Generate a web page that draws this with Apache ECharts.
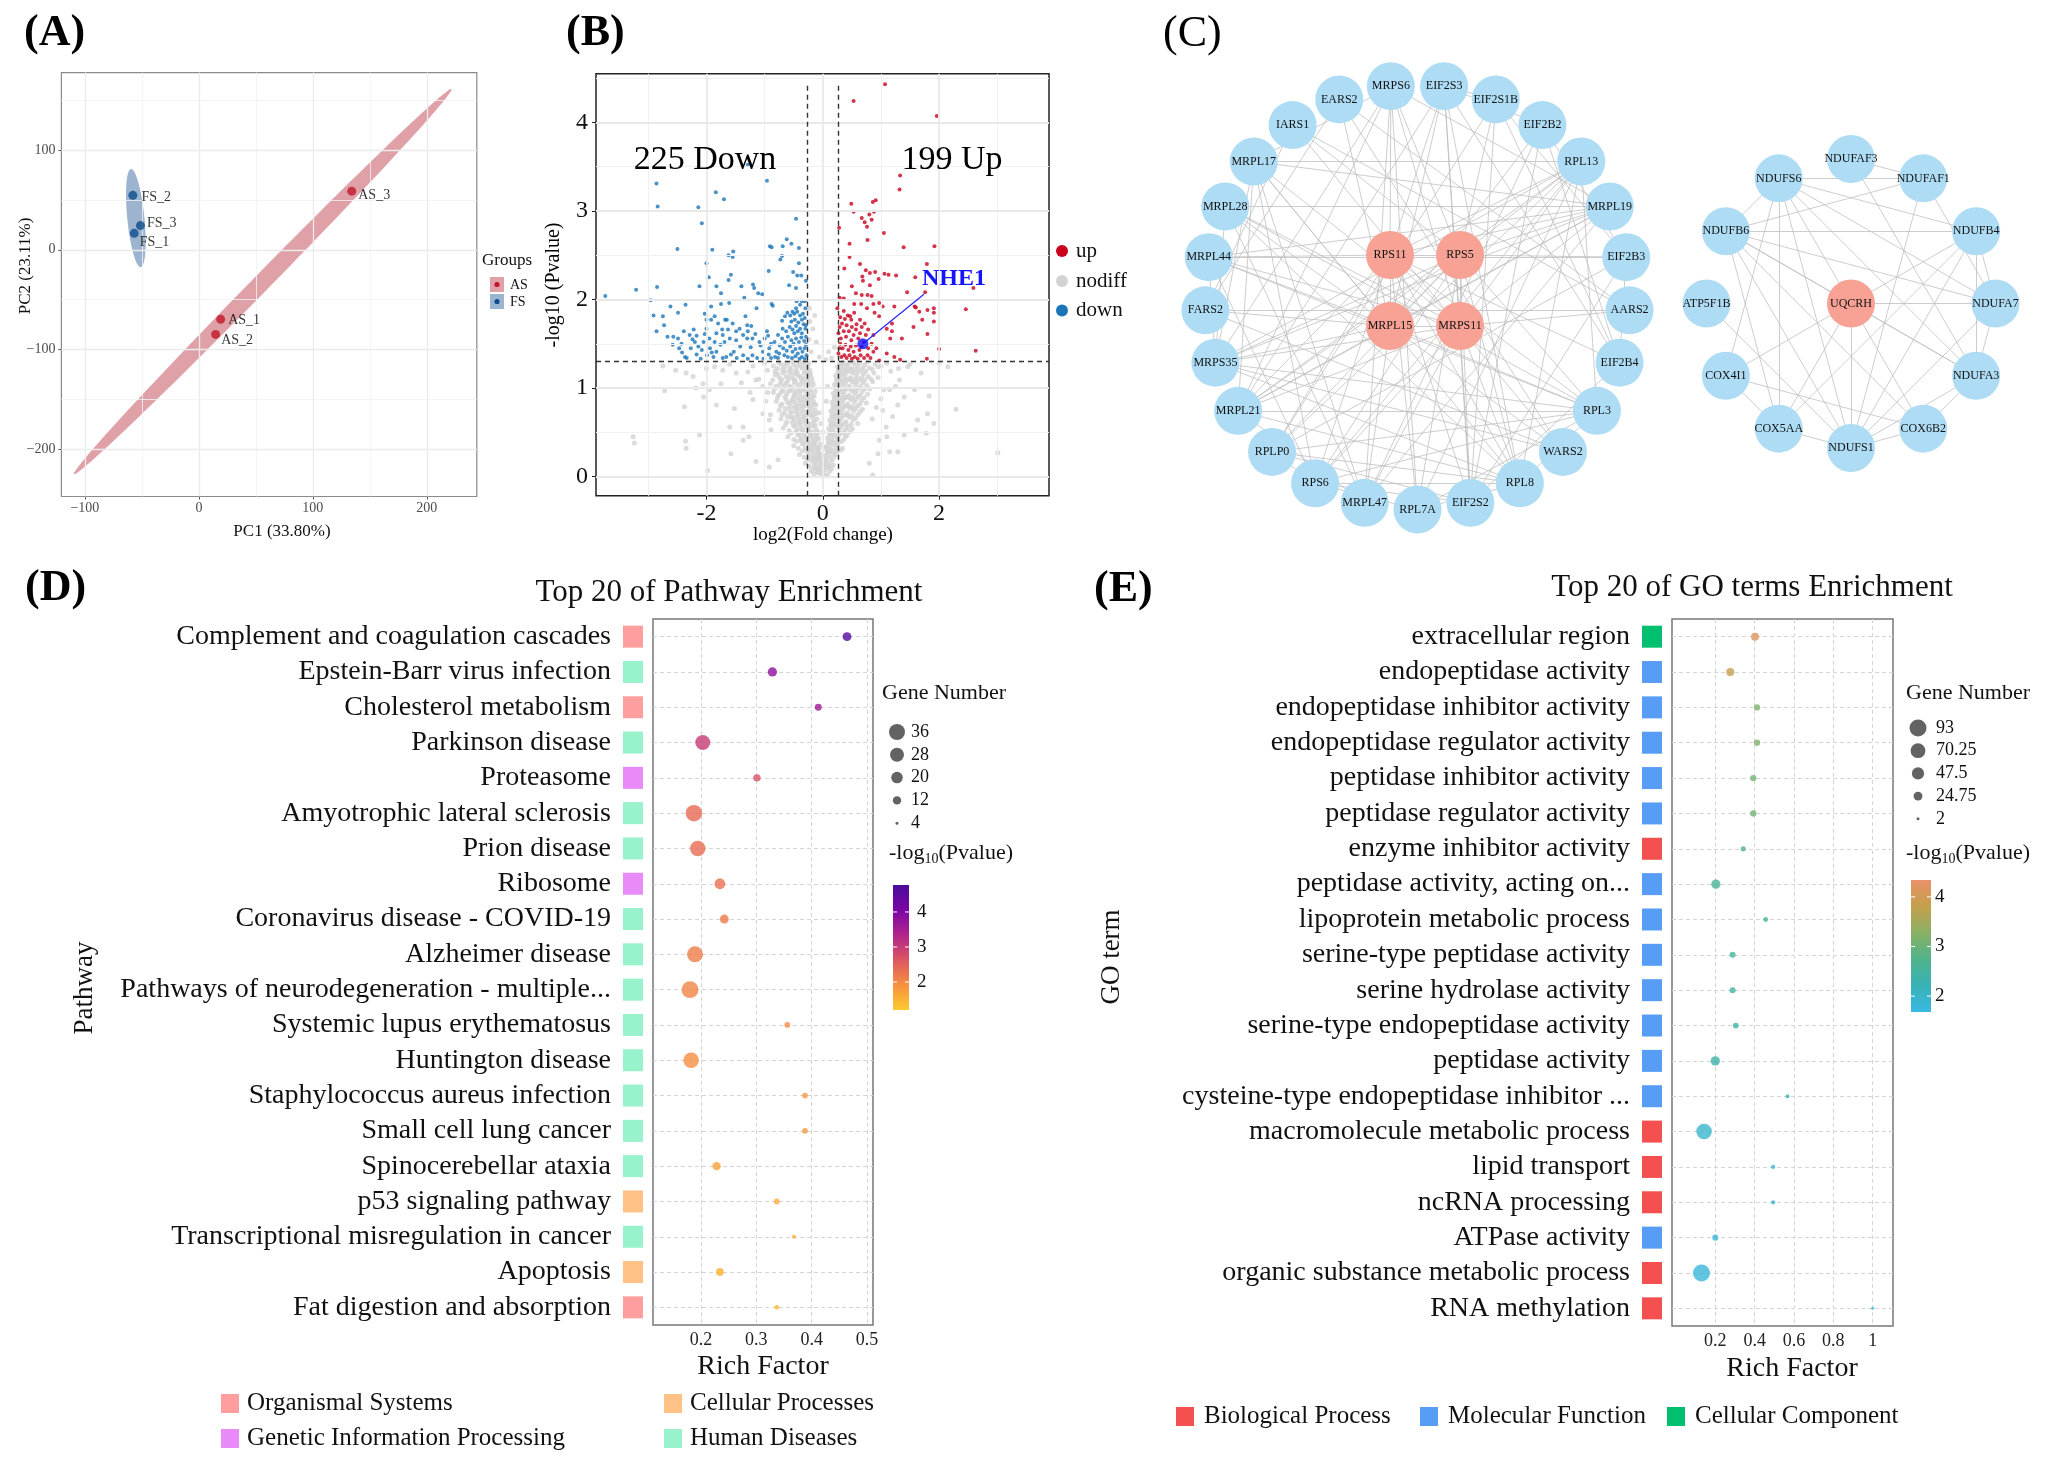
<!DOCTYPE html>
<html>
<head>
<meta charset="utf-8">
<title>Proteomic analysis figure</title>
<script src="https://cdn.jsdelivr.net/npm/echarts@6/dist/echarts.min.js"></script>
<style>
  html, body { margin: 0; padding: 0; background: #ffffff; }
  #chart { width: 2046px; height: 1465px; }
</style>
</head>
<body>
<div id="chart"></div>
<script>
const SERIF = '"Liberation Serif", "Times New Roman", serif'

// ---------------- (A) PCA ----------------
const pcaNames = ['FS_1', 'FS_2', 'FS_3', 'AS_1', 'AS_2', 'AS_3']
const pcaGroup = ['FS', 'FS', 'FS', 'AS', 'AS', 'AS']
const pcaX = [-56.7, -57.9, -51.3, 19.1, 14.7, 134.1]
const pcaY = [16.5, 54.5, 24.2, -69.6, -84.7, 58.7]
const pcaTicksX = [-100, 0, 100, 200]
const pcaTicksY = [-200, -100, 0, 100]
const pcaMinorX = [-50, 50, 150]
const pcaMinorY = [-150, -50, 50, 150]

// ---------------- (B) volcano ----------------
const downPts = [
  [-1.29,3.52],[-0.96,3.34],[-2.86,3.31],[-1.84,3.21],[-1.70,3.13],[-2.84,3.05],[-2.14,3.04],[-0.46,2.91],[-2.08,2.86],
  [-0.62,2.68],[-0.54,2.63],[-2.50,2.57],[-1.90,2.56],[-0.91,2.60],[-0.88,2.59],[-0.69,2.60],[-0.41,2.58],[-1.54,2.54],
  [-1.62,2.50],[-1.55,2.48],[-0.73,2.45],[-0.70,2.49],[-2.00,2.41],[-0.41,2.41],[-0.93,2.32],[-0.51,2.31],[-0.44,2.27],
  [-0.37,2.27],[-1.58,2.28],[-1.96,2.25],[-1.62,2.22],[-0.29,2.21],[-2.12,2.15],[-2.85,2.14],[-1.83,2.15],[-1.40,2.15],
  [-1.20,2.17],[-0.58,2.16],[-0.46,2.13],[-1.18,2.13],[-1.11,2.07],[-1.04,2.06],[-1.75,2.07],[-1.35,2.02],[-3.74,2.04],
  [-3.21,2.11],[-2.96,1.99],[-2.62,1.92],[-2.36,1.94],[-2.49,1.85],[-1.92,1.92],[-1.75,1.95],[-1.61,1.96],[-1.14,1.90],
  [-0.88,1.95],[-0.86,1.93],[-0.45,1.98],[-0.36,1.98],[-2.91,1.82],[-2.75,1.81],[-2.03,1.84],[-1.86,1.81],[-1.92,1.77],
  [-1.68,1.77],[-1.65,1.77],[-1.55,1.73],[-1.33,1.81],[-1.23,1.70],[-1.30,1.71],[-2.73,1.71],[-2.86,1.64],[-2.67,1.58],
  [-2.57,1.58],[-2.43,1.50],[-2.22,1.66],[-2.00,1.67],[-2.03,1.61],[-2.20,1.52],[-2.24,1.55],[-2.14,1.47],[-2.08,1.43],
  [-1.94,1.45],[-1.91,1.40],[-1.83,1.62],[-1.73,1.66],[-1.72,1.60],[-1.76,1.49],[-1.69,1.52],[-1.60,1.56],[-1.49,1.54],
  [-1.42,1.47],[-1.53,1.41],[-1.30,1.56],[-1.24,1.46],[-1.16,1.61],[-1.07,1.48],[-1.03,1.41],[-0.96,1.64],[-0.94,1.59],
  [-0.89,1.50],[-0.80,1.41],[-0.74,1.48],[-2.47,1.45],[-2.42,1.40],[-2.37,1.35],[-2.34,1.34],[-2.10,1.33],[-1.99,1.37],
  [-1.88,1.35],[-1.66,1.35],[-1.48,1.34],[-1.37,1.37],[-1.29,1.33],[-1.13,1.34],[-1.02,1.33],[-0.89,1.34],[-0.77,1.34],
  [-0.66,1.37],
  [-0.70,1.76],[-0.65,1.81],[-0.61,1.85],[-0.56,1.82],[-0.49,1.84],[-0.44,1.86],[-0.39,1.82],[-0.34,1.84],[-0.30,1.90],
  [-0.69,1.67],[-0.63,1.64],[-0.57,1.69],[-0.52,1.66],[-0.46,1.70],[-0.39,1.67],[-0.33,1.72],[-0.30,1.67],
  [-0.70,1.56],[-0.65,1.52],[-0.60,1.58],[-0.54,1.54],[-0.50,1.50],[-0.46,1.56],[-0.41,1.52],[-0.37,1.57],[-0.32,1.53],[-0.29,1.58],
  [-0.68,1.45],[-0.62,1.42],[-0.56,1.47],[-0.52,1.41],[-0.47,1.44],[-0.43,1.39],[-0.39,1.45],[-0.35,1.41],[-0.31,1.45],
  [-0.60,1.35],[-0.53,1.34],[-0.47,1.36],[-0.40,1.33],[-0.36,1.35],[-0.31,1.33],[-0.28,1.37],
  [-0.49,1.62],[-0.43,1.64],[-0.36,1.62],[-0.54,1.75],[-0.48,1.77],[-0.42,1.74],[-0.36,1.77],[-0.31,1.79],[-0.29,1.71],[-0.29,1.49],
  [-0.46,1.90],[-0.39,1.94],[-0.31,1.98],[-0.52,1.86],
  [-2.29,1.60],[-2.17,1.59],[-1.95,1.56],[-1.86,1.52],[-1.49,1.64],[-1.37,1.60],[-1.21,1.56],[-1.09,1.52],[-0.92,1.45],
  [-0.83,1.52],[-0.77,1.60],[-1.43,1.67],[-1.63,1.66],[-1.80,1.73],[-2.00,1.77],[-2.27,1.45],[-2.17,1.38],[-1.83,1.41],
  [-1.72,1.34],[-1.58,1.38],[-1.21,1.37],[-0.93,1.38],[-0.82,1.35],[-0.75,1.39],[-2.58,1.49],[-2.49,1.56],[-2.39,1.64],
  [-2.05,1.52],[-1.29,1.64],[-1.00,1.56]
]
const upPts = [
  [1.07,4.43],[0.53,4.24],[1.96,4.07],[1.33,3.40],[1.32,3.24],[0.49,3.08],[0.86,3.10],[0.91,3.12],[0.53,2.99],[0.67,2.92],
  [0.80,2.96],[0.88,2.99],[0.72,2.87],[0.76,2.82],[0.84,2.90],[0.28,2.81],[1.05,2.75],[0.77,2.67],[0.46,2.63],[1.39,2.59],
  [1.92,2.60],[0.46,2.48],[0.64,2.40],[0.37,2.35],[0.74,2.33],[0.81,2.30],[0.90,2.31],[1.06,2.29],[1.13,2.28],[1.26,2.27],
  [0.68,2.26],[1.59,2.25],[1.79,2.40],[0.96,2.23],[0.69,2.21],[0.81,2.16],[0.50,2.15],[2.59,2.13],[1.45,2.08],[1.76,2.08],
  [0.57,2.07],[0.67,2.05],[0.77,2.05],[0.84,2.04],[0.29,2.02],[0.36,2.01],[0.54,1.95],[0.66,1.95],[0.87,1.95],[0.97,1.96],
  [1.03,1.92],[1.23,1.92],[1.58,1.92],[1.60,1.91],[1.80,1.88],[1.91,1.90],[2.46,1.89],[1.66,1.86],[1.91,1.85],[0.36,1.87],
  [0.43,1.82],[0.54,1.85],[0.76,1.90],[0.89,1.85],[0.97,1.81],[0.49,1.77],[0.64,1.77],[0.72,1.73],[1.19,1.73],[1.71,1.77],
  [1.91,1.75],[1.10,1.67],[1.19,1.64],[1.56,1.69],[1.80,1.61],[1.36,1.56],[1.16,1.56],[2.00,1.44],[2.63,1.42],[1.79,1.33],
  [1.33,1.32],[1.10,1.39],[1.23,1.35],[0.97,1.31],[0.92,1.45],[0.84,1.50],[0.87,1.60],[0.78,1.66],[0.64,1.62],
  [0.27,1.62],[0.31,1.56],[0.36,1.64],[0.40,1.58],[0.45,1.64],[0.49,1.54],[0.53,1.60],[0.57,1.66],[0.61,1.56],
  [0.30,1.50],[0.34,1.45],[0.39,1.49],[0.44,1.43],[0.48,1.47],[0.53,1.41],[0.57,1.48],[0.63,1.43],
  [0.27,1.39],[0.32,1.35],[0.37,1.37],[0.41,1.34],[0.46,1.37],[0.50,1.33],[0.55,1.35],[0.60,1.33],[0.65,1.37],
  [0.71,1.34],[0.77,1.37],[0.82,1.34],[0.29,1.69],[0.33,1.73],[0.41,1.71],[0.50,1.69],[0.58,1.72],[0.67,1.69],
  [0.74,1.60],[0.70,1.52],[0.78,1.45],[0.87,1.41],[0.67,1.47],[0.30,1.80],[0.38,1.78],[0.47,1.81],[0.25,1.90],[0.29,1.45]
]
const nodiffPts = [
  [-0.85,1.25],[-0.78,1.22],[-0.72,1.27],[-0.66,1.24],[-0.60,1.28],[-0.55,1.21],[-0.50,1.26],[-0.45,1.23],[-0.40,1.29],[-0.35,1.22],[-0.30,1.26],[-0.26,1.24],[-0.22,1.20],
  [-0.82,1.15],[-0.75,1.12],[-0.69,1.17],[-0.63,1.13],[-0.57,1.18],[-0.52,1.11],[-0.47,1.16],[-0.42,1.14],[-0.37,1.10],[-0.32,1.17],[-0.27,1.13],[-0.23,1.15],[-0.19,1.11],
  [-0.90,1.05],[-0.80,1.02],[-0.72,1.07],[-0.66,1.03],[-0.60,1.08],[-0.54,1.01],[-0.49,1.06],[-0.44,1.04],[-0.39,1.00],[-0.34,1.07],[-0.29,1.03],[-0.24,1.05],[-0.20,1.01],[-0.16,1.04],
  [-0.85,0.95],[-0.76,0.92],[-0.68,0.97],[-0.62,0.93],[-0.56,0.98],[-0.50,0.91],[-0.45,0.96],[-0.40,0.94],[-0.35,0.90],[-0.30,0.97],[-0.25,0.93],[-0.20,0.95],[-0.15,0.91],
  [-0.80,0.85],[-0.70,0.82],[-0.63,0.87],[-0.57,0.83],[-0.51,0.88],[-0.46,0.81],[-0.41,0.86],[-0.36,0.84],[-0.31,0.80],[-0.26,0.87],[-0.21,0.83],[-0.16,0.85],[-0.12,0.81],
  [-0.75,0.75],[-0.66,0.72],[-0.59,0.77],[-0.53,0.73],[-0.48,0.78],[-0.43,0.71],[-0.38,0.76],[-0.33,0.74],[-0.28,0.70],[-0.23,0.77],[-0.18,0.73],[-0.13,0.75],
  [-0.72,0.65],[-0.62,0.62],[-0.55,0.67],[-0.49,0.63],[-0.44,0.68],[-0.39,0.61],[-0.34,0.66],[-0.29,0.64],[-0.24,0.60],[-0.19,0.67],[-0.14,0.63],[-0.10,0.65],
  [-0.68,0.55],[-0.58,0.52],[-0.50,0.57],[-0.44,0.53],[-0.39,0.58],[-0.34,0.51],[-0.29,0.56],[-0.24,0.54],[-0.20,0.50],[-0.15,0.57],[-0.11,0.53],
  [-0.60,0.45],[-0.50,0.42],[-0.43,0.47],[-0.37,0.43],[-0.32,0.48],[-0.27,0.41],[-0.22,0.46],[-0.18,0.44],[-0.14,0.40],[-0.10,0.47],[-0.07,0.43],
  [-0.50,0.35],[-0.42,0.32],[-0.35,0.37],[-0.30,0.33],[-0.25,0.38],[-0.20,0.31],[-0.16,0.36],[-0.12,0.34],[-0.08,0.30],[-0.05,0.37],
  [-0.40,0.25],[-0.32,0.22],[-0.26,0.27],[-0.21,0.23],[-0.17,0.28],[-0.13,0.21],[-0.09,0.26],[-0.06,0.24],[-0.03,0.20],
  [-0.30,0.15],[-0.23,0.12],[-0.18,0.17],[-0.14,0.13],[-0.10,0.18],[-0.07,0.11],[-0.04,0.16],[-0.01,0.14],
  [-0.20,0.06],[-0.15,0.03],[-0.11,0.08],[-0.08,0.04],[-0.05,0.09],[-0.02,0.02],
  [-0.82,1.19],[-0.76,1.29],[-0.69,1.21],[-0.63,1.28],[-0.57,1.23],[-0.52,1.30],[-0.47,1.19],[-0.42,1.27],[-0.37,1.24],[-0.33,1.29],[-0.28,1.20],[-0.24,1.28],
  [-0.86,1.09],[-0.78,1.16],[-0.71,1.10],[-0.65,1.19],[-0.59,1.12],[-0.54,1.16],[-0.49,1.09],[-0.44,1.18],[-0.39,1.13],[-0.34,1.11],[-0.29,1.18],[-0.25,1.09],[-0.21,1.16],
  [-0.83,0.99],[-0.74,1.04],[-0.69,0.99],[-0.63,1.06],[-0.57,1.02],[-0.52,0.97],[-0.47,1.08],[-0.42,0.99],[-0.37,1.05],[-0.32,0.99],[-0.27,1.08],[-0.22,0.98],[-0.18,1.07],
  [-0.78,0.89],[-0.72,0.95],[-0.65,0.90],[-0.59,0.96],[-0.53,0.86],[-0.48,0.93],[-0.43,0.89],[-0.38,0.97],[-0.33,0.87],[-0.28,0.92],[-0.23,0.88],[-0.18,0.90],[-0.13,0.96],
  [-0.73,0.80],[-0.65,0.77],[-0.60,0.83],[-0.55,0.79],[-0.49,0.84],[-0.44,0.77],[-0.39,0.81],[-0.34,0.79],[-0.29,0.84],[-0.24,0.80],[-0.19,0.78],[-0.14,0.82],
  [-0.70,0.70],[-0.61,0.68],[-0.56,0.72],[-0.51,0.67],[-0.46,0.73],[-0.41,0.66],[-0.36,0.71],[-0.31,0.68],[-0.26,0.73],[-0.21,0.70],[-0.16,0.69],[-0.12,0.71],
  [-0.64,0.59],[-0.53,0.61],[-0.47,0.58],[-0.42,0.62],[-0.37,0.55],[-0.32,0.61],[-0.27,0.59],[-0.22,0.57],[-0.17,0.61],[-0.13,0.58],
  [-0.55,0.49],[-0.46,0.51],[-0.40,0.47],[-0.35,0.52],[-0.30,0.45],[-0.25,0.51],[-0.20,0.48],[-0.16,0.50],[-0.12,0.45],[-0.09,0.50],
  [-0.45,0.40],[-0.38,0.41],[-0.33,0.38],[-0.28,0.43],[-0.23,0.36],[-0.18,0.40],[-0.14,0.38],[-0.10,0.42],[-0.06,0.33],
  [-0.35,0.29],[-0.29,0.31],[-0.24,0.29],[-0.19,0.33],[-0.15,0.25],[-0.11,0.30],[-0.07,0.28],[-0.04,0.25],
  [-0.26,0.19],[-0.20,0.20],[-0.16,0.21],[-0.12,0.16],[-0.08,0.21],[-0.05,0.19],[-0.02,0.10],
  [-0.17,0.09],[-0.13,0.11],[-0.09,0.06],[-0.06,0.12],[-0.03,0.05],[0.00,0.08],
  [0.25,1.24],[0.29,1.28],[0.33,1.21],[0.37,1.26],[0.41,1.23],[0.45,1.29],[0.50,1.22],[0.55,1.27],[0.60,1.24],[0.66,1.20],[0.72,1.26],[0.80,1.23],[0.90,1.27],
  [0.22,1.14],[0.26,1.18],[0.30,1.11],[0.34,1.16],[0.38,1.13],[0.43,1.19],[0.48,1.12],[0.53,1.17],[0.58,1.14],[0.64,1.10],[0.70,1.16],[0.78,1.13],[0.88,1.17],
  [0.20,1.04],[0.24,1.08],[0.28,1.01],[0.32,1.06],[0.36,1.03],[0.41,1.09],[0.46,1.02],[0.51,1.07],[0.56,1.04],[0.62,1.00],[0.69,1.06],[0.76,1.03],[0.86,1.07],
  [0.18,0.94],[0.22,0.98],[0.26,0.91],[0.30,0.96],[0.35,0.93],[0.40,0.99],[0.45,0.92],[0.50,0.97],[0.55,0.94],[0.61,0.90],[0.68,0.96],[0.77,0.93],
  [0.16,0.84],[0.20,0.88],[0.24,0.81],[0.28,0.86],[0.33,0.83],[0.38,0.89],[0.43,0.82],[0.48,0.87],[0.54,0.84],[0.60,0.80],[0.67,0.86],[0.75,0.83],
  [0.14,0.74],[0.18,0.78],[0.22,0.71],[0.27,0.76],[0.32,0.73],[0.37,0.79],[0.42,0.72],[0.47,0.77],[0.53,0.74],[0.60,0.70],[0.68,0.76],
  [0.12,0.64],[0.16,0.68],[0.20,0.61],[0.25,0.66],[0.30,0.63],[0.35,0.69],[0.40,0.62],[0.46,0.67],[0.52,0.64],[0.60,0.60],
  [0.10,0.54],[0.14,0.58],[0.18,0.51],[0.23,0.56],[0.28,0.53],[0.33,0.59],[0.38,0.52],[0.44,0.57],[0.51,0.54],
  [0.08,0.44],[0.12,0.48],[0.16,0.41],[0.20,0.46],[0.25,0.43],[0.30,0.49],[0.36,0.42],[0.42,0.47],
  [0.06,0.34],[0.10,0.38],[0.14,0.31],[0.18,0.36],[0.23,0.33],[0.28,0.39],[0.34,0.32],
  [0.04,0.24],[0.08,0.28],[0.12,0.21],[0.16,0.26],[0.20,0.23],[0.26,0.29],
  [0.02,0.14],[0.05,0.18],[0.09,0.11],[0.13,0.16],[0.18,0.13],
  [0.01,0.04],[0.04,0.08],[0.08,0.02],[0.12,0.06],
  [0.27,1.20],[0.31,1.25],[0.35,1.29],[0.39,1.20],[0.43,1.26],[0.47,1.21],[0.52,1.29],[0.57,1.21],[0.63,1.28],[0.69,1.23],[0.76,1.29],[0.85,1.21],[0.95,1.24],
  [0.24,1.10],[0.28,1.15],[0.32,1.19],[0.36,1.09],[0.40,1.17],[0.45,1.10],[0.50,1.18],[0.56,1.10],[0.61,1.18],[0.67,1.12],[0.74,1.19],[0.83,1.10],
  [0.22,1.00],[0.26,1.05],[0.30,1.09],[0.34,0.99],[0.39,1.06],[0.43,1.00],[0.48,1.09],[0.54,0.99],[0.59,1.07],[0.65,1.02],[0.72,1.09],[0.81,0.99],
  [0.20,0.90],[0.24,0.95],[0.28,0.99],[0.33,0.89],[0.37,0.96],[0.42,0.90],[0.47,0.99],[0.52,0.89],[0.58,0.97],[0.64,0.92],[0.72,0.99],
  [0.18,0.80],[0.22,0.85],[0.26,0.89],[0.30,0.79],[0.35,0.86],[0.40,0.80],[0.46,0.89],[0.51,0.79],[0.57,0.87],[0.64,0.82],[0.71,0.89],
  [0.16,0.70],[0.20,0.75],[0.25,0.79],[0.29,0.69],[0.34,0.76],[0.40,0.70],[0.45,0.79],[0.50,0.69],[0.57,0.77],[0.64,0.73],
  [0.14,0.60],[0.18,0.65],[0.23,0.69],[0.27,0.59],[0.32,0.66],[0.38,0.60],[0.43,0.69],[0.49,0.59],[0.56,0.66],
  [0.12,0.50],[0.16,0.55],[0.21,0.59],[0.26,0.49],[0.31,0.56],[0.36,0.49],[0.41,0.55],[0.47,0.51],
  [0.10,0.40],[0.14,0.45],[0.18,0.49],[0.22,0.39],[0.27,0.46],[0.33,0.40],[0.39,0.45],
  [0.07,0.30],[0.11,0.35],[0.15,0.39],[0.19,0.29],[0.25,0.36],[0.31,0.30],
  [0.05,0.20],[0.09,0.25],[0.13,0.29],[0.17,0.19],[0.22,0.26],
  [0.03,0.10],[0.07,0.15],[0.11,0.12],[0.15,0.09],[0.06,0.01],
  [-0.06,0.72],[0.06,0.85],[0.00,0.50],[0.03,0.33],[-0.03,0.60],[0.08,1.02],
  [-0.23,1.90],[-0.17,1.67],[-0.11,1.52],[-0.20,1.41],[-0.06,1.35],[-0.14,1.82],[0.15,1.34],[0.10,1.41],[0.20,1.46],
  [-0.24,1.55],[0.05,1.32],[-0.22,1.75],
  [-2.72,0.97],[-2.38,0.79],[-2.18,1.00],[-3.26,0.45],[-3.24,0.38],[-2.36,0.40],[-2.35,0.32],[-2.12,0.47],[-1.98,0.07],
  [-1.58,0.26],[-1.60,0.56],[-1.37,0.56],[-1.52,0.77],[-1.83,0.81],[-1.95,0.98],[-2.06,1.05],[-2.53,1.20],[-2.35,1.17],
  [-2.23,1.13],[-1.86,1.24],[-1.72,1.20],[-1.49,1.17],[-1.29,1.18],[-1.15,1.09],[-1.03,1.02],[-1.20,0.87],[-1.03,0.71],
  [-0.92,0.64],[-0.89,0.53],[-1.15,0.17],[-0.92,0.11],[-0.77,0.19],[-1.27,0.45],[-1.37,0.41],
  [-1.00,1.28],[-0.95,1.20],[-1.20,1.25],[-1.60,1.27],[-2.00,1.22],[-1.10,1.10],[-0.95,0.95],[-2.75,1.25],[-1.75,1.05],
  [-2.05,0.90],[-0.90,0.70],[-1.25,0.95],[-0.98,0.85],[-1.40,1.06],
  [2.29,0.76],[3.01,0.27],[1.83,0.91],[1.80,0.71],[1.63,0.64],[1.91,0.60],[1.78,0.49],[1.60,0.53],[1.40,0.47],[1.29,0.28],
  [1.15,0.28],[0.86,0.02],[1.09,0.56],[1.20,0.68],[1.29,0.81],[1.40,0.90],[1.58,0.98],[1.69,1.17],[2.00,1.28],[2.15,1.24],
  [1.17,1.19],[1.32,1.09],[1.46,1.24],[1.15,0.98],[1.00,0.88],[1.03,0.75],[0.97,0.41],[0.95,0.26],[0.80,0.15],
  [1.00,1.25],[1.10,1.28],[1.30,1.22],[1.50,1.27],[0.95,1.12],[1.05,0.98],[0.85,0.65],[1.10,0.45],[1.25,1.02],[0.92,0.78]
]
const nhe1 = [0.69, 1.50]
const nhe1Label = [1.74, 2.06]
const fcCut = 0.263
const pCut = 1.301
const volTicksX = [-2, 0, 2]
const volTicksY = [0, 1, 2, 3, 4]
const volMinorX = [-3, -1, 1, 3]
const volMinorY = [0.5, 1.5, 2.5, 3.5, 4.5]

// ---------------- (C) PPI networks ----------------
const ringA = ['MRPS6', 'EIF2S3', 'EIF2S1B', 'EIF2B2', 'RPL13', 'MRPL19', 'EIF2B3', 'AARS2', 'EIF2B4', 'RPL3',
  'WARS2', 'RPL8', 'EIF2S2', 'RPL7A', 'MRPL47', 'RPS6', 'RPLP0', 'MRPL21', 'MRPS35', 'FARS2', 'MRPL44',
  'MRPL28', 'MRPL17', 'IARS1', 'EARS2']
const hubA = ['RPS11', 'RPS5', 'MRPL15', 'MRPS11']
const ringB = ['NDUFAF3', 'NDUFAF1', 'NDUFB4', 'NDUFA7', 'NDUFA3', 'COX6B2', 'NDUFS1', 'COX5AA', 'COX4I1',
  'ATP5F1B', 'NDUFB6', 'NDUFS6']
const hubB = ['UQCRH']
const edgesA = [
  ['RPS11','MRPS6'],['RPS11','EIF2S3'],['RPS11','MRPL44'],['RPS11','MRPL19'],['RPS11','RPL3'],['RPS11','RPS6'],
  ['RPS11','RPLP0'],['RPS11','RPL8'],['RPS11','RPL7A'],['RPS11','EIF2S2'],['RPS11','RPS5'],['RPS11','MRPL15'],
  ['RPS11','RPL13'],['RPS11','MRPL21'],['RPS11','EIF2B4'],['RPS11','MRPS11'],
  ['RPS5','MRPS6'],['RPS5','EIF2S1B'],['RPS5','MRPL19'],['RPS5','RPL13'],['RPS5','RPL3'],['RPS5','RPS6'],
  ['RPS5','RPLP0'],['RPS5','RPL8'],['RPS5','RPL7A'],['RPS5','EIF2S2'],['RPS5','MRPS11'],['RPS5','MRPL21'],
  ['RPS5','MRPS35'],['RPS5','EIF2B3'],['RPS5','IARS1'],['RPS5','MRPL15'],
  ['MRPL15','MRPL17'],['MRPL15','MRPL28'],['MRPL15','MRPL44'],['MRPL15','MRPS35'],['MRPL15','MRPL21'],
  ['MRPL15','MRPL47'],['MRPL15','MRPL19'],['MRPL15','MRPS11'],['MRPL15','EARS2'],['MRPL15','EIF2B2'],
  ['MRPL15','RPL3'],['MRPL15','WARS2'],['MRPL15','EIF2S3'],['MRPL15','FARS2'],
  ['MRPS11','MRPL17'],['MRPS11','MRPL28'],['MRPS11','MRPS35'],['MRPS11','MRPL21'],['MRPS11','MRPL47'],
  ['MRPS11','MRPL19'],['MRPS11','MRPS6'],['MRPS11','EIF2S3'],['MRPS11','RPL13'],['MRPS11','RPL8'],
  ['MRPS11','MRPL44'],['MRPS11','AARS2'],['MRPS11','EIF2S2'],['MRPS11','RPS6'],
  ['MRPL17','MRPL19'],['MRPL17','MRPL47'],['MRPL17','MRPL21'],['MRPL17','RPL8'],['MRPL17','MRPS35'],
  ['MRPL28','MRPL19'],['MRPL28','MRPS35'],['MRPL28','MRPL47'],['MRPL44','MRPL19'],['MRPL44','MRPS35'],
  ['MRPL44','RPL3'],['MRPL21','RPL3'],['MRPL21','MRPL19'],['MRPL21','MRPL47'],['MRPL21','RPL8'],
  ['MRPS35','RPL3'],['MRPS35','WARS2'],['MRPS35','MRPL19'],['RPLP0','RPL3'],['RPLP0','RPL8'],['RPLP0','RPL13'],
  ['RPLP0','RPS6'],['RPLP0','EIF2S2'],['RPS6','RPL3'],['RPS6','RPL8'],['RPS6','RPL13'],['RPS6','RPL7A'],
  ['RPS6','EIF2S2'],['RPL7A','RPL13'],['RPL7A','RPL3'],['RPL7A','RPL8'],['RPL7A','MRPS6'],['EIF2S2','EIF2S3'],
  ['EIF2S2','EIF2B2'],['EIF2S2','EIF2S1B'],['EIF2S2','EIF2B4'],['EIF2S2','EIF2B3'],['EIF2S3','EIF2S1B'],
  ['EIF2S3','EIF2B2'],['EIF2S3','EIF2B4'],['EIF2S3','MRPL21'],['EIF2S3','RPL8'],['EIF2S1B','EIF2B3'],
  ['EIF2S1B','EIF2B4'],['EIF2S1B','RPLP0'],['EIF2B2','EIF2B3'],['EIF2B2','EIF2B4'],['EIF2B3','EIF2B4'],
  ['EIF2B2','MRPL47'],['RPL13','RPL3'],['RPL13','RPL8'],['RPL13','MRPL17'],['RPL13','MRPS35'],['RPL3','RPL8'],
  ['MRPS6','MRPL19'],['MRPS6','MRPL47'],['MRPS6','MRPS35'],['MRPS6','MRPL21'],['MRPS6','MRPL17'],
  ['MRPL47','MRPL19'],['EARS2','WARS2'],['EARS2','FARS2'],['IARS1','FARS2'],['IARS1','WARS2'],['IARS1','AARS2'],
  ['FARS2','WARS2'],['FARS2','AARS2'],['AARS2','EARS2'],['MRPL17','RPS6'],['MRPL44','RPS6'],['MRPL28','RPL8'],
  ['EIF2B3','RPLP0'],['MRPL21','RPL13'],['MRPL28','RPL3'],['MRPL44','EIF2B3'],['MRPS35','RPL8']
]
const edgesB = [
  ['NDUFS6','NDUFAF1'],['NDUFAF3','NDUFAF1'],['NDUFB6','NDUFB4'],['NDUFB6','NDUFAF1'],['NDUFB6','NDUFS6'],
  ['NDUFB6','UQCRH'],['UQCRH','NDUFA3'],['UQCRH','NDUFA7'],['UQCRH','NDUFB4'],['UQCRH','NDUFS1'],
  ['UQCRH','COX5AA'],['UQCRH','COX4I1'],['UQCRH','NDUFS6'],['UQCRH','COX6B2'],['NDUFS6','NDUFB4'],
  ['NDUFS6','NDUFA7'],['NDUFS6','NDUFA3'],['NDUFS6','COX5AA'],['NDUFS6','NDUFS1'],['NDUFS6','COX4I1'],
  ['NDUFAF3','NDUFA3'],['NDUFAF1','NDUFA7'],['NDUFAF1','NDUFS1'],['NDUFB6','NDUFA7'],['NDUFB6','COX5AA'],
  ['NDUFB6','NDUFS1'],['NDUFB6','NDUFA3'],['NDUFB4','NDUFA7'],['NDUFB4','NDUFA3'],['NDUFB4','NDUFS1'],
  ['NDUFB4','COX5AA'],['NDUFA7','NDUFA3'],['NDUFA7','NDUFS1'],['NDUFA3','NDUFS1'],['NDUFA3','COX6B2'],
  ['COX5AA','NDUFS1'],['NDUFS1','COX6B2'],['COX4I1','COX5AA'],['COX4I1','COX6B2'],['ATP5F1B','NDUFS1'],
  ['NDUFB6','COX6B2']
]

// ---------------- (D) pathway enrichment ----------------
const pathNames = ['Complement and coagulation cascades', 'Epstein-Barr virus infection', 'Cholesterol metabolism',
  'Parkinson disease', 'Proteasome', 'Amyotrophic lateral sclerosis', 'Prion disease', 'Ribosome',
  'Coronavirus disease - COVID-19', 'Alzheimer disease', 'Pathways of neurodegeneration - multiple...',
  'Systemic lupus erythematosus', 'Huntington disease', 'Staphylococcus aureus infection', 'Small cell lung cancer',
  'Spinocerebellar ataxia', 'p53 signaling pathway', 'Transcriptional misregulation in cancer', 'Apoptosis',
  'Fat digestion and absorption']
const pathClass = ['os', 'hd', 'os', 'hd', 'gip', 'hd', 'hd', 'gip', 'hd', 'hd', 'hd', 'hd', 'hd', 'hd', 'hd',
  'hd', 'cp', 'hd', 'cp', 'os']
const pathRich = [0.464, 0.329, 0.412, 0.203, 0.301, 0.187, 0.194, 0.234, 0.242, 0.189, 0.180, 0.356, 0.182,
  0.388, 0.388, 0.228, 0.337, 0.368, 0.234, 0.337]
const pathGenes = [13, 14, 9, 32, 10, 38, 34, 18, 13, 36, 40, 7, 34, 7, 7, 12, 7, 5, 11, 6]
const pathLogP = [4.6, 3.8, 3.6, 3.0, 2.7, 2.4, 2.35, 2.3, 2.2, 2.15, 2.05, 1.95, 1.95, 1.8, 1.8, 1.7, 1.6,
  1.55, 1.5, 1.4]
const pathTicks = [0.2, 0.3, 0.4, 0.5]
const pathSizeKeys = [36, 28, 20, 12, 4]
const pathColorKeys = [2, 3, 4]

// ---------------- (E) GO enrichment ----------------
const goNames = ['extracellular region', 'endopeptidase activity', 'endopeptidase inhibitor activity',
  'endopeptidase regulator activity', 'peptidase inhibitor activity', 'peptidase regulator activity',
  'enzyme inhibitor activity', 'peptidase activity, acting on...', 'lipoprotein metabolic process',
  'serine-type peptidase activity', 'serine hydrolase activity', 'serine-type endopeptidase activity',
  'peptidase activity', 'cysteine-type endopeptidase inhibitor ...', 'macromolecule metabolic process',
  'lipid transport', 'ncRNA processing', 'ATPase activity', 'organic substance metabolic process', 'RNA methylation']
const goClass = ['cc', 'mf', 'mf', 'mf', 'mf', 'mf', 'bp', 'mf', 'mf', 'mf', 'mf', 'mf', 'mf', 'mf', 'bp', 'bp',
  'bp', 'mf', 'bp', 'bp']
const goRich = [0.402, 0.276, 0.412, 0.412, 0.393, 0.393, 0.342, 0.203, 0.456, 0.288, 0.288, 0.304, 0.200,
  0.567, 0.143, 0.494, 0.494, 0.200, 0.130, 1.0]
const goGenes = [20, 20, 12, 12, 12, 12, 8, 27, 7, 11, 11, 10, 27, 4, 78, 5, 5, 11, 93, 2]
const goLogP = [4.2, 3.85, 3.2, 3.2, 3.05, 3.05, 2.8, 2.65, 2.6, 2.5, 2.5, 2.45, 2.4, 2.3, 1.95, 1.95, 1.95,
  1.85, 1.8, 1.75]
const goTicks = [0.2, 0.4, 0.6, 0.8, 1]
const goSizeKeys = [93, 70.25, 47.5, 24.75, 2]
const goColorKeys = [2, 3, 4]

// ---------------- styles ----------------
const groupColor = { AS: '#C0182A', FS: '#0F4C8C' }
const groupFill = { AS: '#DFA0A7', FS: '#9DB4D0' }
const volColor = { up: '#C8001E', nodiff: '#D3D3D3', down: '#1B75BB' }
const pathBoxColor = { os: '#FF9E9E', hd: '#98F2CB', gip: '#E88AF7', cp: '#FFC185' }
const pathBoxName = { os: 'Organismal Systems', cp: 'Cellular Processes', gip: 'Genetic Information Processing', hd: 'Human Diseases' }
const goBoxColor = { bp: '#F4504F', mf: '#579DF6', cc: '#00BF6F' }
const goBoxName = { bp: 'Biological Process', mf: 'Molecular Function', cc: 'Cellular Component' }
const pathRange = [1.2, 4.77]
const goRange = [1.68, 4.34]
const pathColors = ['#FDCA2E', '#F7903F', '#DC5660', '#B2248C', '#7A05A5', '#4A0C9C']
const goColors = ['#3BB8E4', '#37B2B6', '#4FB38C', '#8AB064', '#C3A04C', '#EB9169']

const sizeD = n => Math.sqrt(9 + (256 - 9) * Math.max(n - 4, 0) / 32)
const sizeE = n => Math.sqrt(9 + (289 - 9) * Math.max(n - 2, 0) / 91)

// 95% normal confidence ellipse from the sample points of a group
function ellipse(xs, ys) {
  const n = xs.length
  const mx = xs.reduce((a, b) => a + b, 0) / n
  const my = ys.reduce((a, b) => a + b, 0) / n
  let sxx = 0, syy = 0, sxy = 0
  for (let i = 0; i < n; i++) {
    sxx += (xs[i] - mx) ** 2
    syy += (ys[i] - my) ** 2
    sxy += (xs[i] - mx) * (ys[i] - my)
  }
  sxx /= n - 1; syy /= n - 1; sxy /= n - 1
  const tr = sxx + syy, det = sxx * syy - sxy * sxy
  const d = Math.sqrt(Math.max(tr * tr / 4 - det, 0))
  const l1 = tr / 2 + d, l2 = Math.max(tr / 2 - d, 0)
  const th = Math.atan2(l1 - sxx, sxy)
  const r = Math.sqrt(5.991)
  const pts = []
  for (let k = 0; k <= 120; k++) {
    const t = k / 120 * Math.PI * 2
    const u = r * Math.sqrt(l1) * Math.cos(t), v = r * Math.sqrt(l2) * Math.sin(t)
    pts.push([mx + u * Math.cos(th) - v * Math.sin(th), my + u * Math.sin(th) + v * Math.cos(th)])
  }
  return pts
}

const negLabel = v => (v < 0 ? '\u2212' + Math.abs(v) : String(v))

function gridMarks(xs, ys, style) {
  return xs.map(v => ({ xAxis: v, lineStyle: style })).concat(ys.map(v => ({ yAxis: v, lineStyle: style })))
}
function markLines(data) {
  return { silent: true, symbol: ['none', 'none'], label: { show: false }, animation: false, data: data }
}
function T(x, y, text, size, o) {
  o = o || {}
  const align = o.align || 'left'
  return {
    type: 'text', x: x, y: y, rotation: o.rot || 0, z: 20, silent: true,
    style: {
      text: text, font: (o.bold ? 'bold ' : '') + size + 'px ' + SERIF, fill: o.color || '#111',
      align: align, verticalAlign: 'middle', textAlign: align, textVerticalAlign: 'middle', rich: o.rich
    }
  }
}
function R(x, y, w, h, fill) {
  return { type: 'rect', z: 20, silent: true, shape: { x: x, y: y, width: w, height: h }, style: { fill: fill } }
}
function C(x, y, r, fill) {
  return { type: 'circle', z: 20, silent: true, shape: { cx: x, cy: y, r: r }, style: { fill: fill } }
}

// ---------------- build ----------------
const series = []
const graphic = []

// (A)
series.push({
  type: 'scatter', xAxisIndex: 0, yAxisIndex: 0, data: [], z: 1,
  markLine: markLines(gridMarks(pcaMinorX, pcaMinorY, { color: '#F3F3F3', width: 0.8, type: 'solid' })
    .concat(gridMarks(pcaTicksX, pcaTicksY, { color: '#EBEBEB', width: 1.3, type: 'solid' })))
})
;['FS', 'AS'].forEach(g => {
  const idx = pcaGroup.map((x, i) => (x === g ? i : -1)).filter(i => i >= 0)
  const pts = ellipse(idx.map(i => pcaX[i]), idx.map(i => pcaY[i]))
  series.push({
    type: 'custom', xAxisIndex: 0, yAxisIndex: 0, z: 2, silent: true, data: [[0, 0]],
    renderItem: (params, api) => ({
      type: 'polygon', shape: { points: pts.map(p => api.coord(p)) }, style: { fill: groupFill[g] }
    })
  })
})
const pcaLabelOffset = [[-4, 9], [-1, 2], [-3, -2], [-2, 1], [-4, 6], [-3, 4]]
series.push({
  type: 'scatter', xAxisIndex: 0, yAxisIndex: 0, z: 5, symbol: 'circle', symbolSize: 9,
  data: pcaNames.map((n, i) => ({
    name: n, value: [pcaX[i], pcaY[i]], itemStyle: { color: groupColor[pcaGroup[i]] },
    label: { offset: pcaLabelOffset[i] }
  })),
  label: { show: true, position: 'right', formatter: '{b}', fontFamily: SERIF, fontSize: 14, color: '#000' }
})
graphic.push(T(24, 34, '(A)', 44, { bold: true, color: '#000' }))
graphic.push(T(282, 532, 'PC1 (33.80%)', 17, { align: 'center' }))
graphic.push(T(26, 266, 'PC2 (23.11%)', 17, { align: 'center', rot: Math.PI / 2 }))
graphic.push(T(482, 261, 'Groups', 17))
;['AS', 'FS'].forEach((g, i) => {
  const y = 277 + i * 17
  graphic.push(R(490, y, 14, 15, groupFill[g]))
  graphic.push(C(497, y + 7.5, 2.6, groupColor[g]))
  graphic.push(T(510, y + 8, g, 14))
})

// (B)
const volGridStyleMajor = { color: '#E9E9E9', width: 1.8, type: 'solid' }
const volGridStyleMinor = { color: '#F0F0F0', width: 1.1, type: 'solid' }
const dash = { color: '#333', width: 1.4, type: [5, 4] }
series.push({
  type: 'scatter', xAxisIndex: 1, yAxisIndex: 1, data: [], z: 1,
  markLine: markLines(gridMarks(volMinorX, volMinorY, volGridStyleMinor)
    .concat(gridMarks(volTicksX, volTicksY, volGridStyleMajor)))
})
series.push({ type: 'scatter', xAxisIndex: 1, yAxisIndex: 1, z: 3, symbol: 'circle', symbolSize: 5, itemStyle: { color: volColor.nodiff }, data: nodiffPts })
series.push({ type: 'scatter', xAxisIndex: 1, yAxisIndex: 1, z: 4, symbol: 'circle', symbolSize: 4, itemStyle: { color: volColor.down }, data: downPts })
series.push({ type: 'scatter', xAxisIndex: 1, yAxisIndex: 1, z: 4, symbol: 'circle', symbolSize: 4, itemStyle: { color: volColor.up }, data: upPts })
series.push({
  type: 'scatter', xAxisIndex: 1, yAxisIndex: 1, data: [], z: 6,
  markLine: markLines([
    { yAxis: pCut, lineStyle: dash },
    [{ coord: [-fcCut, -0.216], lineStyle: dash }, { coord: [-fcCut, 4.45] }],
    [{ coord: [fcCut, -0.216], lineStyle: dash }, { coord: [fcCut, 4.45] }]
  ])
})
series.push({
  type: 'line', xAxisIndex: 1, yAxisIndex: 1, z: 7, symbol: 'none', silent: true,
  lineStyle: { color: '#2B2BFF', width: 1.3 }, data: [nhe1, nhe1Label]
})
series.push({ type: 'scatter', xAxisIndex: 1, yAxisIndex: 1, z: 8, symbol: 'circle', symbolSize: 11, itemStyle: { color: '#1414FF' }, data: [nhe1] })
graphic.push(T(566, 34, '(B)', 44, { bold: true, color: '#000' }))
graphic.push(T(705, 160, '225 Down', 34, { align: 'center', color: '#000' }))
graphic.push(T(952, 160, '199 Up', 34, { align: 'center', color: '#000' }))
graphic.push(T(922, 279, 'NHE1', 24, { bold: true, color: '#1414FF' }))
graphic.push(T(823, 535, 'log2(Fold change)', 19, { align: 'center', color: '#000' }))
graphic.push(T(554, 285, '-log10 (Pvalue)', 20, { align: 'center', rot: Math.PI / 2, color: '#000' }))
;[['up', 251], ['nodiff', 281], ['down', 310.5]].forEach(([k, y]) => {
  graphic.push(C(1062, y, 6, volColor[k]))
  graphic.push(T(1076, y, k, 21))
})

// (C)
function ringPos(i, n, cx, cy, r, start) {
  const a = (start + 360 * i / n) * Math.PI / 180
  return [cx + r * Math.sin(a), cy - r * Math.cos(a)]
}
const nodes = []
ringA.forEach((n, i) => nodes.push({ name: n, value: ringPos(i, ringA.length, 1417.5, 297, 212.5, -180 / ringA.length), itemStyle: { color: '#ADDCF4' } }))
const hubOff = [[-1, -1], [1, -1], [-1, 1], [1, 1]]
hubA.forEach((n, i) => nodes.push({ name: n, value: [1425 + 35 * hubOff[i][0], 290.5 + 35.5 * hubOff[i][1]], itemStyle: { color: '#F8A295' } }))
ringB.forEach((n, i) => nodes.push({ name: n, value: ringPos(i, ringB.length, 1851, 303.5, 144.5, 0), itemStyle: { color: '#ADDCF4' } }))
hubB.forEach(n => nodes.push({ name: n, value: [1851, 303.5], itemStyle: { color: '#F8A295' } }))
series.push({
  type: 'graph', coordinateSystem: 'cartesian2d', xAxisIndex: 2, yAxisIndex: 2, layout: 'none', z: 3,
  symbol: 'circle', symbolSize: 48, data: nodes,
  links: edgesA.concat(edgesB).map(e => ({ source: e[0], target: e[1] })),
  lineStyle: { color: '#BDBDBD', width: 0.9, opacity: 0.85 },
  label: { show: true, position: 'inside', fontFamily: SERIF, fontSize: 12, color: '#111' },
  emphasis: { disabled: true }, silent: true
})
graphic.push(T(1163, 34, '(C)', 44, { color: '#000' }))

// (D)
const pathDash = { color: '#D5D5D5', width: 1, type: [4, 3] }
series.push({
  type: 'scatter', xAxisIndex: 3, yAxisIndex: 3, data: [], z: 1,
  markLine: markLines(gridMarks(pathTicks, pathNames, pathDash))
})
const iD = series.length
series.push({
  type: 'scatter', xAxisIndex: 3, yAxisIndex: 3, z: 5, symbol: 'circle',
  data: pathNames.map((n, i) => [pathRich[i], n, pathGenes[i], pathLogP[i]]),
  encode: { x: 0, y: 1 }, symbolSize: v => sizeD(v[2])
})
graphic.push(T(25, 589, '(D)', 44, { bold: true, color: '#000' }))
graphic.push(T(729, 593, 'Top 20 of Pathway Enrichment', 31, { align: 'center' }))
graphic.push(T(763, 1367, 'Rich Factor', 28, { align: 'center' }))
graphic.push(T(85, 988, 'Pathway', 27, { align: 'center', rot: Math.PI / 2 }))
graphic.push(T(882, 693, 'Gene Number', 22))
pathSizeKeys.forEach((k, i) => {
  const y = 732 + i * 22.8
  graphic.push(C(897, y, sizeD(k) / 2, '#636363'))
  graphic.push(T(911, y, String(k), 18))
})
const logRich = { s: { fontSize: 14, fontFamily: SERIF, padding: [12, 0, 0, 0] } }
graphic.push(T(889, 853, '-log{s|10}(Pvalue)', 22, { rich: logRich }))

function colorBar(x, y, w, h, range, colors, keys, labelX) {
  const stops = colors.map((c, i) => ({ offset: 1 - i / (colors.length - 1), color: c }))
  graphic.push({ type: 'rect', z: 20, silent: true, shape: { x: x, y: y, width: w, height: h },
    style: { fill: new echarts.graphic.LinearGradient(0, 0, 0, 1, stops.reverse()) } })
  keys.forEach(k => {
    const yy = y + h - (k - range[0]) / (range[1] - range[0]) * h
    graphic.push({ type: 'line', z: 21, silent: true, shape: { x1: x, y1: yy, x2: x + 4, y2: yy }, style: { stroke: '#fff', lineWidth: 1 } })
    graphic.push({ type: 'line', z: 21, silent: true, shape: { x1: x + w - 4, y1: yy, x2: x + w, y2: yy }, style: { stroke: '#fff', lineWidth: 1 } })
    graphic.push(T(labelX, yy, String(k), 19))
  })
}
colorBar(893, 885, 16, 125, pathRange, pathColors, pathColorKeys, 917)
;[['os', 221, 1403], ['cp', 664, 1403], ['gip', 221, 1438], ['hd', 664, 1438]].forEach(([k, x, y]) => {
  graphic.push(R(x, y - 9, 18, 19, pathBoxColor[k]))
  graphic.push(T(x + 26, y, pathBoxName[k], 25))
})

// (E)
series.push({
  type: 'scatter', xAxisIndex: 4, yAxisIndex: 4, data: [], z: 1,
  markLine: markLines(gridMarks(goTicks, goNames, pathDash))
})
const iE = series.length
series.push({
  type: 'scatter', xAxisIndex: 4, yAxisIndex: 4, z: 5, symbol: 'circle',
  data: goNames.map((n, i) => [goRich[i], n, goGenes[i], goLogP[i]]),
  encode: { x: 0, y: 1 }, symbolSize: v => sizeE(v[2])
})
graphic.push(T(1094, 590, '(E)', 44, { bold: true, color: '#000' }))
graphic.push(T(1752, 588, 'Top 20 of GO terms Enrichment', 31, { align: 'center' }))
graphic.push(T(1792, 1369, 'Rich Factor', 28, { align: 'center' }))
graphic.push(T(1112, 957, 'GO term', 27, { align: 'center', rot: Math.PI / 2 }))
graphic.push(T(1906, 693, 'Gene Number', 22))
goSizeKeys.forEach((k, i) => {
  const y = 728 + i * 22.7
  graphic.push(C(1918, y, sizeE(k) / 2, '#636363'))
  graphic.push(T(1936, y, String(k), 18))
})
graphic.push(T(1906, 853, '-log{s|10}(Pvalue)', 22, { rich: logRich }))
colorBar(1911, 880, 20, 132, goRange, goColors, goColorKeys, 1935)
;[['bp', 1176], ['mf', 1420], ['cc', 1667]].forEach(([k, x]) => {
  graphic.push(R(x, 1407, 18, 19, goBoxColor[k]))
  graphic.push(T(x + 28, 1416, goBoxName[k], 25))
})

// axes
function valueAxis(grid, min, max, ticks, o) {
  o = o || {}
  return {
    type: 'value', gridIndex: grid, min: min, max: max, inverse: !!o.inverse,
    axisLine: { show: false, onZero: false },
    axisTick: { show: !!o.tick, customValues: ticks, length: o.tickLen || 3, lineStyle: { color: o.tickColor || '#333', width: 1 } },
    axisLabel: {
      show: true, customValues: ticks, formatter: o.fmt || (v => String(v)), fontFamily: SERIF,
      fontSize: o.size || 14, color: o.color || '#222', margin: o.margin || 6
    },
    splitLine: { show: false }
  }
}
function catAxis(grid, names, classes, boxColors) {
  const rich = { t: { fontFamily: SERIF, fontSize: 28, color: '#111' }, sp: { width: 12, fontSize: 4 } }
  Object.keys(boxColors).forEach(k => { rich[k] = { width: 20, height: 22, fontSize: 4, backgroundColor: boxColors[k] } })
  return {
    type: 'category', gridIndex: grid, data: names, inverse: true,
    axisLine: { show: false }, axisTick: { show: false }, splitLine: { show: false },
    axisLabel: {
      margin: 10, interval: 0,
      formatter: v => '{t|' + v + '}{sp|\u00a0}{' + classes[names.indexOf(v)] + '|\u00a0}',
      rich: rich
    }
  }
}
const hidden = (grid, min, max, inv) => ({ type: 'value', gridIndex: grid, min: min, max: max, inverse: !!inv, show: false })

const option = {
  animation: false,
  backgroundColor: '#ffffff',
  textStyle: { fontFamily: SERIF },
  grid: [
    { left: 61.4, top: 72.6, width: 415.4, height: 423.9, show: true, borderColor: '#8A8A8A', borderWidth: 1.2, backgroundColor: 'transparent' },
    { left: 596, top: 73.7, width: 453, height: 422.1, show: true, borderColor: '#222', borderWidth: 1.5, backgroundColor: 'transparent' },
    { left: 1150, top: 0, width: 896, height: 560, show: false },
    { left: 653, top: 619, width: 220, height: 706, show: true, borderColor: '#777', borderWidth: 1.5, backgroundColor: 'transparent' },
    { left: 1672, top: 619, width: 221, height: 707, show: true, borderColor: '#777', borderWidth: 1.5, backgroundColor: 'transparent' }
  ],
  xAxis: [
    valueAxis(0, -120.6, 243.8, pcaTicksX, { tick: true, fmt: negLabel, color: '#4D4D4D', size: 14, margin: 5, tickColor: '#555' }),
    valueAxis(1, -3.9, 3.89, volTicksX, { tick: true, size: 24, color: '#111', margin: 6, tickLen: 4, tickColor: '#222' }),
    hidden(2, 1150, 2046),
    valueAxis(3, 0.113, 0.511, pathTicks, { size: 18, margin: 6 }),
    valueAxis(4, -0.02, 1.103, goTicks, { size: 18, margin: 6 })
  ],
  yAxis: [
    valueAxis(0, -247, 177.4, pcaTicksY, { tick: true, fmt: negLabel, color: '#4D4D4D', size: 14, margin: 6, tickColor: '#555' }),
    valueAxis(1, -0.216, 4.548, volTicksY, { tick: true, size: 24, color: '#111', margin: 8, tickLen: 4, tickColor: '#222' }),
    hidden(2, 0, 560, true),
    catAxis(3, pathNames, pathClass, pathBoxColor),
    catAxis(4, goNames, goClass, goBoxColor)
  ],
  visualMap: [
    { type: 'continuous', show: false, seriesIndex: iD, dimension: 3, min: pathRange[0], max: pathRange[1], inRange: { color: pathColors } },
    { type: 'continuous', show: false, seriesIndex: iE, dimension: 3, min: goRange[0], max: goRange[1], inRange: { color: goColors } }
  ],
  series: series,
  graphic: graphic
}

const chart = echarts.init(document.getElementById('chart'))
chart.setOption(option)
</script>
</body>
</html>
